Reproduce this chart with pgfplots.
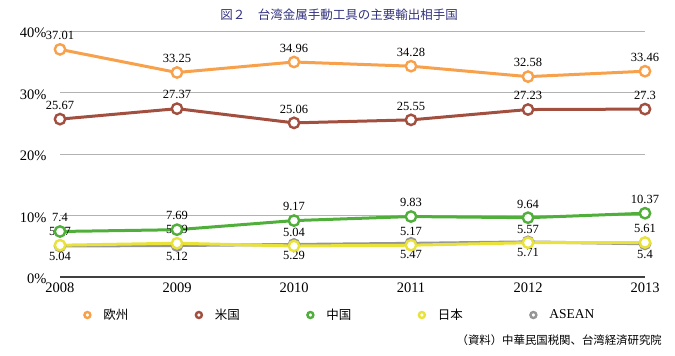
\documentclass[border=0pt]{standalone}
\usepackage{fontspec}
\setmainfont{Liberation Serif}
\newfontfamily\jp{Noto Sans CJK JP}
\usepackage{pgfplots}
\pgfplotsset{compat=1.18}
\definecolor{cEU}{RGB}{247,161,76}
\definecolor{cUS}{RGB}{163,79,63}
\definecolor{cCN}{RGB}{80,175,58}
\definecolor{cJP}{RGB}{232,226,58}
\definecolor{cAS}{RGB}{150,150,150}
\definecolor{titleblue}{RGB}{50,50,125}
\newcommand{\lgbox}[1]{\makebox[91.3pt][l]{#1}}
\begin{document}
\begin{tikzpicture}[x=1pt,y=1pt]
\useasboundingbox (0,0) rectangle (675,356);
\node[text=titleblue, font=\jp\fontsize{12.5}{14}\selectfont, inner sep=0] at (339,341.5) {図２　台湾金属手動工具の主要輸出相手国};
\node[anchor=east, inner sep=0, font=\jp\fontsize{11.4}{13}\selectfont] at (662,16) {（資料）中華民国税関、台湾経済研究院};
\begin{axis}[
  at={(60pt,79pt)}, anchor=south west,
  scale only axis, width=585pt, height=246pt,
  xmin=2008, xmax=2013, ymin=0, ymax=40,
  clip=false,
  xtick={2008,2009,2010,2011,2012,2013},
  xticklabels={2008,2009,2010,2011,2012,2013},
  ytick={0,10,20,30,40},
  yticklabels={0\%,10\%,20\%,30\%,40\%},
  major tick length=0pt,
  axis x line*=bottom, axis y line*=left,
  y axis line style={draw=none},
  x axis line style={draw=black!75, line width=1.3pt},
  ymajorgrids, grid style={draw=black!30, line width=0.9pt},
  ticklabel style={font=\fontsize{14.5}{16}\selectfont},
  yticklabel style={anchor=east, xshift=-10pt, yshift=-2pt},
  xticklabel style={yshift=-2pt},
  /pgf/number format/assume math mode=true,
  nodes near coords,
  every node near coord/.append style={font=\fontsize{12.5}{14}\selectfont, text=black, anchor=south, yshift=5pt},
  legend image code/.code={\draw[#1, line width=2.4pt, fill=white] (0pt,0pt) circle (3pt);},
  reverse legend,
  legend columns=5,
  legend style={at={(axis description cs:0.0393,-0.1545)}, anchor=west, draw=none, fill=none, inner sep=0pt,
    font=\jp\fontsize{12.5}{14}\selectfont,
    nodes={inner sep=0pt},
    /tikz/column sep=0pt,
    /tikz/every odd column/.append style={column sep=11.8pt}},
]
\addplot[color=cAS, line width=3pt, mark=*, mark size=5.2pt, mark options={fill=white, line width=2.4pt},
  every node near coord/.append style={anchor=north, yshift=-7pt}]
  coordinates {(2008,5.04) (2009,5.12) (2010,5.29) (2011,5.47) (2012,5.71) (2013,5.4)};
\addlegendentry{\lgbox{\rmfamily\fontsize{13.5}{15}\selectfont ASEAN}}
\addplot[color=cJP, line width=3pt, mark=*, mark size=5.2pt, mark options={fill=white, line width=2.4pt}]
  coordinates {(2008,5.17) (2009,5.49) (2010,5.04) (2011,5.17) (2012,5.57) (2013,5.61)};
\addlegendentry{\lgbox{日本}}
\addplot[color=cCN, line width=3pt, mark=*, mark size=5.2pt, mark options={fill=white, line width=2.4pt}]
  coordinates {(2008,7.4) (2009,7.69) (2010,9.17) (2011,9.83) (2012,9.64) (2013,10.37)};
\addlegendentry{\lgbox{中国}}
\addplot[color=cUS, line width=3pt, mark=*, mark size=5.2pt, mark options={fill=white, line width=2.4pt}]
  coordinates {(2008,25.67) (2009,27.37) (2010,25.06) (2011,25.55) (2012,27.23) (2013,27.3)};
\addlegendentry{\lgbox{米国}}
\addplot[color=cEU, line width=3pt, mark=*, mark size=5.2pt, mark options={fill=white, line width=2.4pt}]
  coordinates {(2008,37.01) (2009,33.25) (2010,34.96) (2011,34.28) (2012,32.58) (2013,33.46)};
\addlegendentry{\lgbox{欧州}}
\end{axis}
\end{tikzpicture}
\end{document}
